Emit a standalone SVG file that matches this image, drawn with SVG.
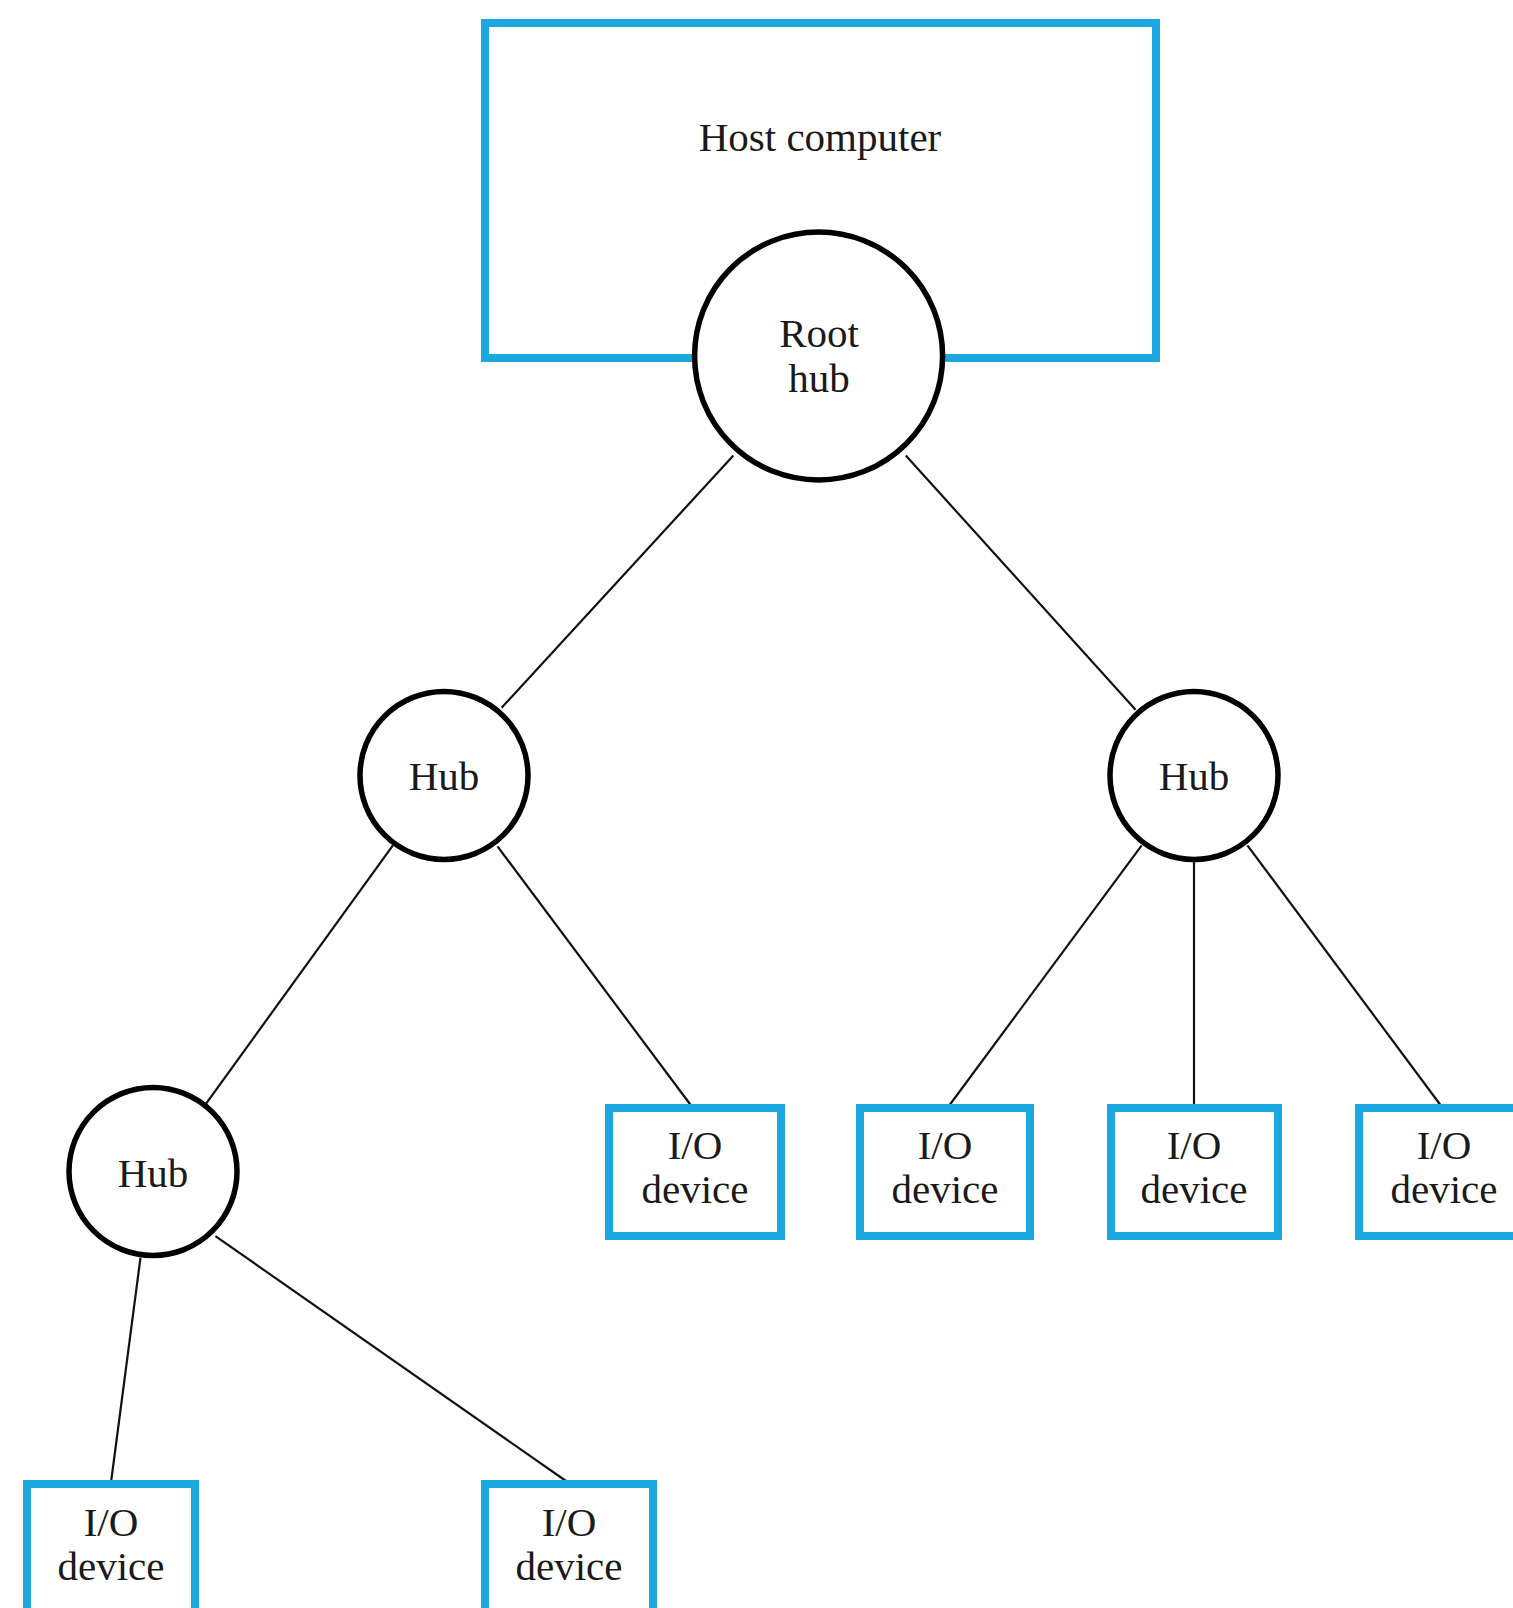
<svg xmlns="http://www.w3.org/2000/svg" width="1513" height="1608" viewBox="0 0 1513 1608">
<style>
.box{fill:#fff;stroke:#1ba8e0;stroke-width:8}
.hub{fill:#fff;stroke:#000;stroke-width:5.5}
.conn line{stroke:#111;stroke-width:2.2}
text{font-family:"Liberation Serif","Times New Roman",serif;font-size:41px;fill:#1a1a1a;text-anchor:middle}
</style>
<rect width="1513" height="1608" fill="#fff"/>
<g id="host">
<rect class="box" x="485" y="23" width="671" height="335"/>
<text x="820" y="151">Host computer</text>
</g>
<g id="connectors" class="conn">
<line x1="733.4" y1="455.5" x2="501.6" y2="707.8"/>
<line x1="905.8" y1="455.5" x2="1135.6" y2="709.8"/>
<line x1="392.9" y1="845.3" x2="205.2" y2="1104.8"/>
<line x1="497.5" y1="846.3" x2="691.4" y2="1106"/>
<line x1="1141.7" y1="845.3" x2="948.9" y2="1106"/>
<line x1="1194" y1="859.6" x2="1194" y2="1106"/>
<line x1="1247.4" y1="845.3" x2="1441.2" y2="1106"/>
<line x1="140.5" y1="1257.6" x2="110.8" y2="1484"/>
<line x1="215.4" y1="1236.1" x2="570.3" y2="1484"/>
</g>
<g id="roothub">
<circle class="hub" cx="818.6" cy="356" r="124"/>
<text x="819" y="347">Root</text>
<text x="819" y="392">hub</text>
</g>
<g id="hub1">
<circle class="hub" cx="444" cy="775.5" r="84"/>
<text x="444" y="790">Hub</text>
</g>
<g id="hub2">
<circle class="hub" cx="1194" cy="775.5" r="84"/>
<text x="1194" y="790">Hub</text>
</g>
<g id="hub3">
<circle class="hub" cx="153" cy="1171.5" r="84"/>
<text x="153" y="1187">Hub</text>
</g>
<g id="io1">
<rect class="box" x="609" y="1108" width="172" height="128"/>
<text x="695" y="1159">I/O</text>
<text x="695" y="1203">device</text>
</g>
<g id="io2">
<rect class="box" x="860" y="1108" width="170" height="128"/>
<text x="945" y="1159">I/O</text>
<text x="945" y="1203">device</text>
</g>
<g id="io3">
<rect class="box" x="1111" y="1108" width="167" height="128"/>
<text x="1194" y="1159">I/O</text>
<text x="1194" y="1203">device</text>
</g>
<g id="io4">
<rect class="box" x="1359" y="1108" width="171" height="128"/>
<text x="1444" y="1159">I/O</text>
<text x="1444" y="1203">device</text>
</g>
<g id="io5">
<rect class="box" x="27" y="1484" width="168" height="140"/>
<text x="111" y="1536">I/O</text>
<text x="111" y="1580">device</text>
</g>
<g id="io6">
<rect class="box" x="485" y="1484" width="168" height="140"/>
<text x="569" y="1536">I/O</text>
<text x="569" y="1580">device</text>
</g>
</svg>
